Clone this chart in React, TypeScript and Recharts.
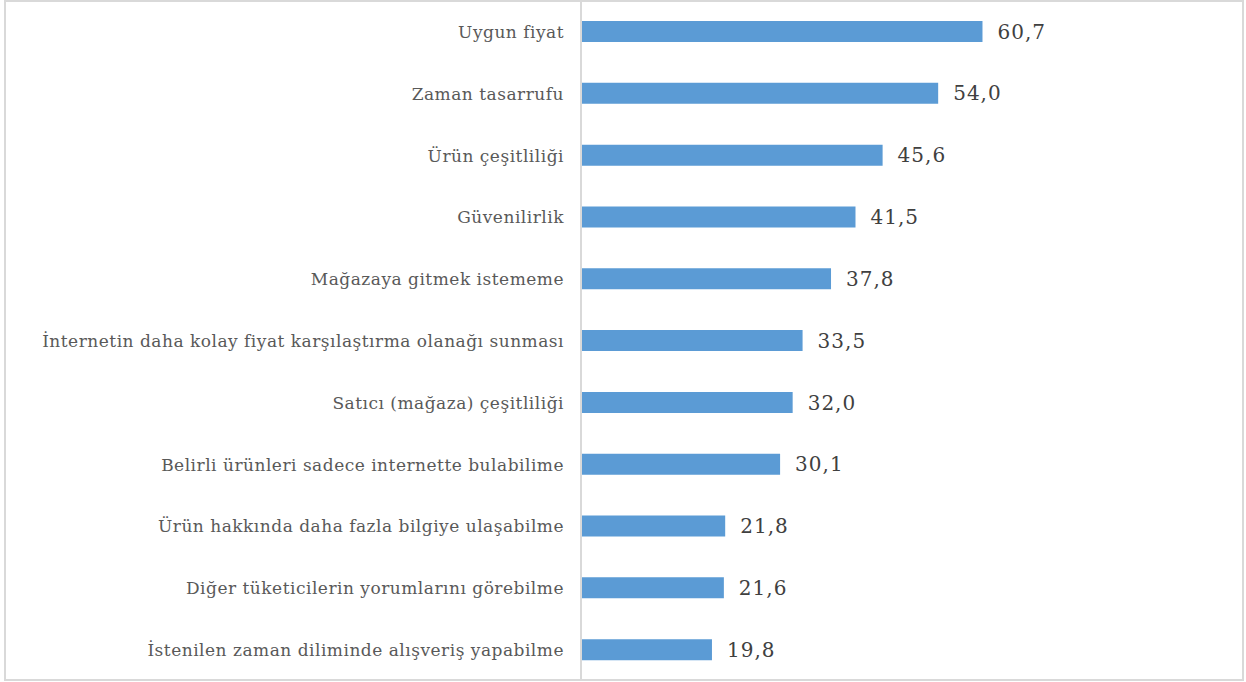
import React from "react";
import { BarChart, Bar, XAxis, YAxis, LabelList } from "recharts";

const categories = [
  "Uygun fiyat",
  "Zaman tasarrufu",
  "Ürün çeşitliliği",
  "Güvenilirlik",
  "Mağazaya gitmek istememe",
  "İnternetin daha kolay fiyat karşılaştırma olanağı sunması",
  "Satıcı (mağaza) çeşitliliği",
  "Belirli ürünleri sadece internette bulabilime",
  "Ürün hakkında daha fazla bilgiye ulaşabilme",
  "Diğer tüketicilerin yorumlarını görebilme",
  "İstenilen zaman diliminde alışveriş yapabilme",
];

const values = [60.7, 54.0, 45.6, 41.5, 37.8, 33.5, 32.0, 30.1, 21.8, 21.6, 19.8];

const data = categories.map((name, i) => ({ name, value: values[i] }));

const FONT = "'DejaVu Serif', serif";

export default function App() {
  return (
    <div style={{ position: "absolute", left: 0, top: 0, width: 1246, height: 682, background: "#fff" }}>
      <div style={{ position: "absolute", left: 0, top: 1 }}>
        <BarChart
          layout="vertical"
          width={1240}
          height={680}
          data={data}
          margin={{ top: 0, right: 196, bottom: 0, left: 0 }}
          barCategoryGap="33%"
        >
          <XAxis type="number" domain={[0, 70]} hide />
          <YAxis
            type="category"
            dataKey="name"
            width={581}
            axisLine={{ stroke: "#d9d9d9", strokeWidth: 2 }}
            tickLine={false}
            tickSize={0}
            tickMargin={17}
            interval={0}
            tick={{ fill: "#595959", fontSize: 17, fontFamily: FONT, letterSpacing: 0.5 }}
          />
          <Bar dataKey="value" fill="#5b9bd5" barSize={21} isAnimationActive={false}>
            <LabelList
              dataKey="value"
              position="right"
              offset={15}
              formatter={(v: number) => v.toFixed(1).replace(".", ",")}
              style={{ fill: "#404040", fontSize: 20, fontFamily: FONT, letterSpacing: 1 }}
            />
          </Bar>
        </BarChart>
      </div>
      <div
        style={{
          position: "absolute",
          left: 4,
          top: 0,
          width: 1240,
          height: 681,
          boxSizing: "border-box",
          border: "2px solid #d9d9d9",
          pointerEvents: "none",
        }}
      />
    </div>
  );
}
